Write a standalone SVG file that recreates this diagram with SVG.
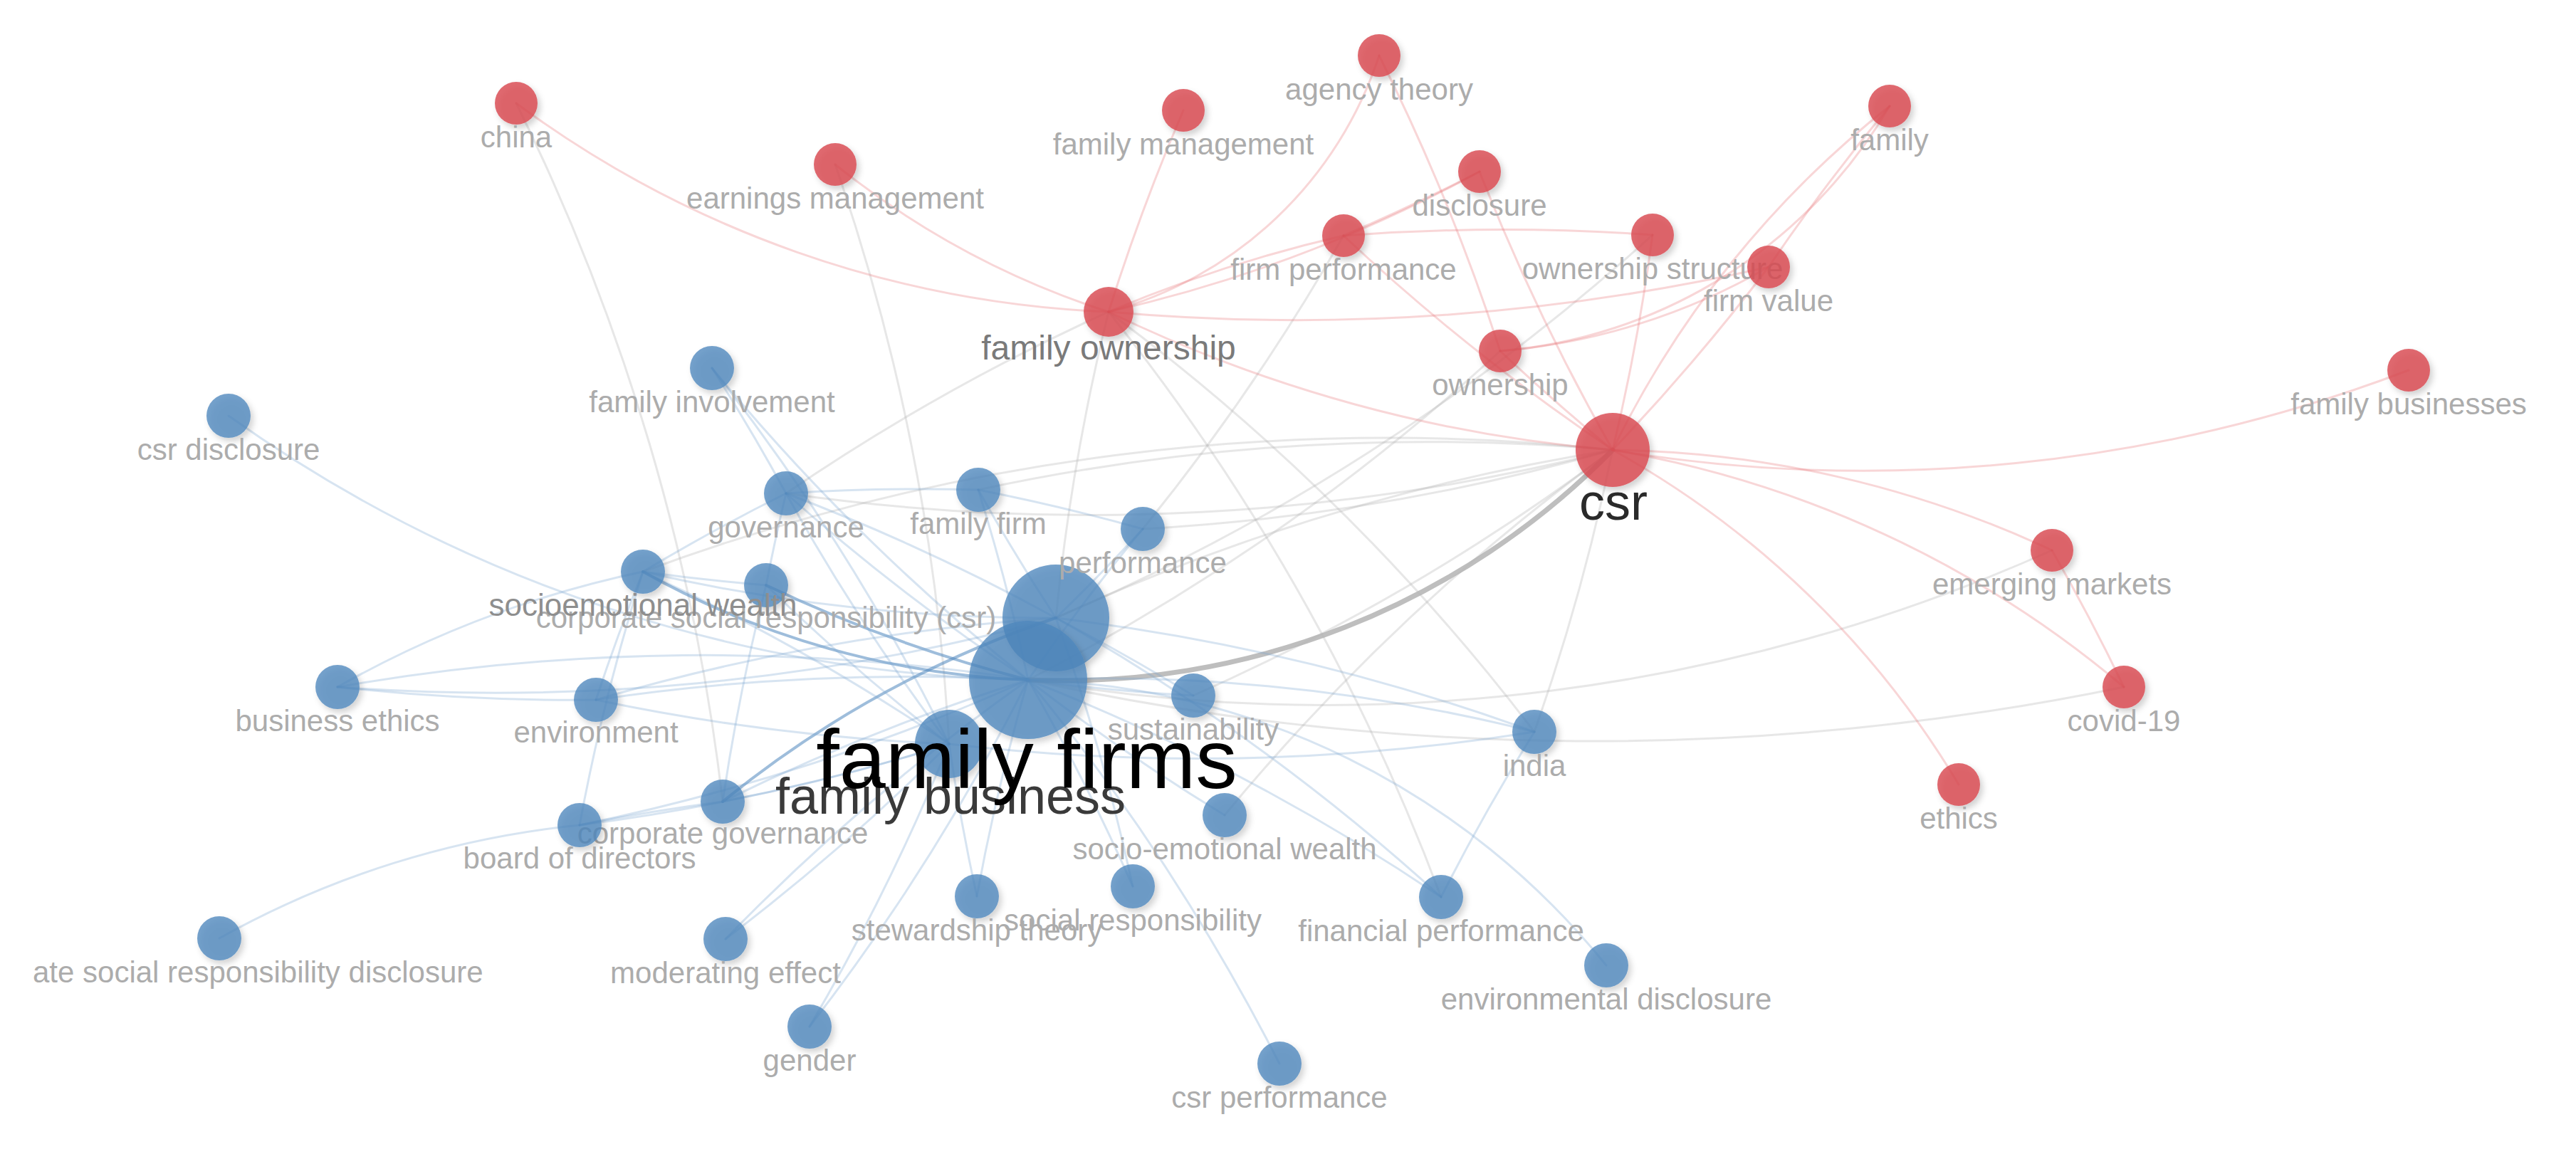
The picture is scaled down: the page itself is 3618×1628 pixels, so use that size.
<svg xmlns="http://www.w3.org/2000/svg" width="3618" height="1628" viewBox="0 0 3618 1628">
<defs>
<filter id="sh" x="-30%" y="-30%" width="170%" height="170%">
<feDropShadow dx="4" dy="5" stdDeviation="4" flood-color="#000" flood-opacity="0.22"/>
</filter>
</defs>
<style>
.e path{fill:none;stroke-linecap:round}
.g{stroke:#b0b0b0;stroke-opacity:.3;stroke-width:3}
.gt{stroke:#b3b3b3;stroke-opacity:.85;stroke-width:7}
.b{stroke:#7aa7d2;stroke-opacity:.3;stroke-width:3}
.bs{stroke:#4f86bd;stroke-opacity:.55;stroke-width:4}
.r{stroke:#e8767c;stroke-opacity:.3;stroke-width:3}
.nb circle{fill:#4d86bd;fill-opacity:.78;filter:url(#sh)}
.nr circle{fill:#d94850;fill-opacity:.82;filter:url(#sh)}
text{font-family:"Liberation Sans",Arial,sans-serif;font-size:42px;fill:#acacac;text-anchor:middle}
</style>
<rect width="3618" height="1628" fill="#fff"/>
<g id="connectors" class="e">
<path class="g" d="M1557 438A3000 3000 0 0 0 1483 868"/>
<path class="g" d="M1557 438A3000 3000 0 0 0 1104 693"/>
<path class="g" d="M1557 438A3000 3000 0 0 1 2155 1028"/>
<path class="g" d="M1557 438A3000 3000 0 0 1 2024 1260"/>
<path class="g" d="M2265 632A3000 3000 0 0 0 1374 688"/>
<path class="g" d="M2265 632A3000 3000 0 0 1 1104 693"/>
<path class="g" d="M2265 632A3000 3000 0 0 0 903 803"/>
<path class="g" d="M2265 632A3000 3000 0 0 1 1605 743"/>
<path class="g" d="M2265 632A3000 3000 0 0 0 1483 868"/>
<path class="g" d="M2265 632A3000 3000 0 0 1 2155 1028"/>
<path class="g" d="M2265 632A3000 3000 0 0 1 1676 977"/>
<path class="g" d="M2265 632A3000 3000 0 0 0 1720 1145"/>
<path class="g" d="M2882 773A2500 2500 0 0 1 1444 955"/>
<path class="g" d="M2983 965A3700 3700 0 0 1 1444 955"/>
<path class="g" d="M725 145A3000 3000 0 0 1 1015 1126"/>
<path class="g" d="M1173 231A3000 3000 0 0 1 1333 1045"/>
<path class="g" d="M2107 493A3000 3000 0 0 1 1444 955"/>
<path class="g" d="M2321 330A3000 3000 0 0 1 1483 868"/>
<path class="g" d="M1887 331A3000 3000 0 0 1 1605 743"/>
<path class="gt" d="M1444 955A1081 1081 0 0 0 2265 632"/>
<path class="b" d="M1444 955A3000 3000 0 0 1 1000 517"/>
<path class="b" d="M1444 955A3000 3000 0 0 1 1104 693"/>
<path class="b" d="M1444 955A3000 3000 0 0 0 1374 688"/>
<path class="b" d="M1444 955A3000 3000 0 0 1 1605 743"/>
<path class="bs" d="M903 803A1200 1200 0 0 0 1444 955"/>
<path class="bs" d="M1076 822A2000 2000 0 0 0 1444 955"/>
<path class="b" d="M474 965A3000 3000 0 0 1 1444 955"/>
<path class="b" d="M837 983A3000 3000 0 0 1 1444 955"/>
<path class="b" d="M1444 955A3000 3000 0 0 0 1676 977"/>
<path class="b" d="M1444 955A2500 2500 0 0 1 2155 1028"/>
<path class="b" d="M1444 955A3000 3000 0 0 0 1720 1145"/>
<path class="b" d="M1444 955A3000 3000 0 0 0 1015 1126"/>
<path class="b" d="M1444 955A3000 3000 0 0 1 814 1159"/>
<path class="b" d="M1444 955A3000 3000 0 0 0 1372 1259"/>
<path class="b" d="M1444 955A3000 3000 0 0 1 1591 1245"/>
<path class="b" d="M1444 955A3000 3000 0 0 1 2024 1260"/>
<path class="b" d="M1444 955A1076 1076 0 0 1 2256 1356"/>
<path class="b" d="M1444 955A3000 3000 0 0 1 1797 1494"/>
<path class="b" d="M1444 955A3000 3000 0 0 0 1019 1319"/>
<path class="b" d="M1444 955A3000 3000 0 0 1 1137 1442"/>
<path class="b" d="M321 584A2000 2000 0 0 0 1444 955"/>
<path class="b" d="M1483 868A3000 3000 0 0 0 1104 693"/>
<path class="b" d="M1483 868A2500 2500 0 0 1 903 803"/>
<path class="b" d="M1483 868A3000 3000 0 0 0 837 983"/>
<path class="bs" d="M1015 1126A1500 1500 0 0 1 1483 868"/>
<path class="b" d="M1483 868A3000 3000 0 0 1 1374 688"/>
<path class="b" d="M1483 868A3000 3000 0 0 1 1676 977"/>
<path class="b" d="M1483 868A3000 3000 0 0 1 2155 1028"/>
<path class="b" d="M1483 868A3000 3000 0 0 1 1591 1245"/>
<path class="b" d="M1483 868A3000 3000 0 0 0 1605 743"/>
<path class="b" d="M1483 868A3000 3000 0 0 1 2024 1260"/>
<path class="b" d="M1483 868A3000 3000 0 0 1 474 965"/>
<path class="b" d="M1333 1045A3000 3000 0 0 1 1104 693"/>
<path class="b" d="M1333 1045A3000 3000 0 0 0 1000 517"/>
<path class="b" d="M1333 1045A3000 3000 0 0 1 837 983"/>
<path class="b" d="M1333 1045A3000 3000 0 0 1 1015 1126"/>
<path class="b" d="M1333 1045A3000 3000 0 0 1 1019 1319"/>
<path class="b" d="M1333 1045A3000 3000 0 0 1 1137 1442"/>
<path class="b" d="M1333 1045A3000 3000 0 0 0 1372 1259"/>
<path class="b" d="M1333 1045A3000 3000 0 0 1 1076 822"/>
<path class="b" d="M1333 1045A3000 3000 0 0 0 903 803"/>
<path class="b" d="M1333 1045A3000 3000 0 0 1 814 1159"/>
<path class="b" d="M1333 1045A3000 3000 0 0 0 2155 1028"/>
<path class="b" d="M903 803A3000 3000 0 0 0 1076 822"/>
<path class="b" d="M903 803A3000 3000 0 0 1 1104 693"/>
<path class="b" d="M1104 693A3000 3000 0 0 1 1374 688"/>
<path class="b" d="M474 965A3000 3000 0 0 0 837 983"/>
<path class="b" d="M474 965A1500 1500 0 0 1 903 803"/>
<path class="b" d="M814 1159A3000 3000 0 0 1 1015 1126"/>
<path class="b" d="M308 1318A1300 1300 0 0 1 814 1159"/>
<path class="b" d="M2155 1028A3000 3000 0 0 0 2024 1260"/>
<path class="b" d="M1000 517A3000 3000 0 0 1 1104 693"/>
<path class="b" d="M837 983A3000 3000 0 0 1 903 803"/>
<path class="b" d="M1015 1126A3000 3000 0 0 1 1076 822"/>
<path class="b" d="M1374 688A3000 3000 0 0 1 1605 743"/>
<path class="b" d="M1104 693A3000 3000 0 0 0 1076 822"/>
<path class="b" d="M814 1159A3000 3000 0 0 1 903 803"/>
<path class="r" d="M725 145A1500 1500 0 0 0 1557 438"/>
<path class="r" d="M1173 231A1200 1200 0 0 0 1557 438"/>
<path class="r" d="M1662 155A3000 3000 0 0 0 1557 438"/>
<path class="r" d="M1557 438A550 550 0 0 0 1937 78"/>
<path class="r" d="M1557 438A2000 2000 0 0 1 1887 331"/>
<path class="r" d="M1557 438A2000 2000 0 0 0 2078 241"/>
<path class="r" d="M1557 438A3000 3000 0 0 0 2484 375"/>
<path class="r" d="M1887 331A3000 3000 0 0 1 2321 330"/>
<path class="r" d="M2107 493A900 900 0 0 0 2484 375"/>
<path class="r" d="M2654 149A700 700 0 0 1 2107 493"/>
<path class="r" d="M2654 149A1390 1390 0 0 0 2265 632"/>
<path class="r" d="M2484 375A3000 3000 0 0 1 2265 632"/>
<path class="r" d="M2321 330A3000 3000 0 0 1 2265 632"/>
<path class="r" d="M2107 493A3000 3000 0 0 0 2265 632"/>
<path class="r" d="M2078 241A3000 3000 0 0 0 2265 632"/>
<path class="r" d="M1937 78A3000 3000 0 0 1 2107 493"/>
<path class="r" d="M2078 241A3000 3000 0 0 1 1887 331"/>
<path class="r" d="M2654 149A3000 3000 0 0 0 2484 375"/>
<path class="r" d="M1887 331A3000 3000 0 0 0 2265 632"/>
<path class="r" d="M1557 438A2000 2000 0 0 0 2265 632"/>
<path class="r" d="M2265 632A1500 1500 0 0 1 2882 773"/>
<path class="r" d="M2265 632A1500 1500 0 0 1 2983 965"/>
<path class="r" d="M2265 632A1300 1300 0 0 1 2751 1102"/>
<path class="r" d="M2265 632A2143 2143 0 0 0 3383 520"/>
<path class="r" d="M2882 773A3000 3000 0 0 1 2983 965"/>
</g>
<g id="node-b2" class="nb"><circle cx="1483" cy="868" r="75"/></g>
<g id="node-china" class="nr"><circle cx="725" cy="145" r="30"/><text x="725" y="207">china</text></g>
<g id="node-earnings-management" class="nr"><circle cx="1173" cy="231" r="30"/><text x="1173" y="293">earnings management</text></g>
<g id="node-family-management" class="nr"><circle cx="1662" cy="155" r="30"/><text x="1662" y="217">family management</text></g>
<g id="node-agency-theory" class="nr"><circle cx="1937" cy="78" r="30"/><text x="1937" y="140">agency theory</text></g>
<g id="node-disclosure" class="nr"><circle cx="2078" cy="241" r="30"/><text x="2078" y="303">disclosure</text></g>
<g id="node-firm-performance" class="nr"><circle cx="1887" cy="331" r="30"/><text x="1887" y="393">firm performance</text></g>
<g id="node-ownership-structure" class="nr"><circle cx="2321" cy="330" r="30"/><text x="2321" y="392">ownership structure</text></g>
<g id="node-firm-value" class="nr"><circle cx="2484" cy="375" r="30"/><text x="2484" y="437">firm value</text></g>
<g id="node-family" class="nr"><circle cx="2654" cy="149" r="30"/><text x="2654" y="211">family</text></g>
<g id="node-ownership" class="nr"><circle cx="2107" cy="493" r="30"/><text x="2107" y="555">ownership</text></g>
<g id="node-family-businesses" class="nr"><circle cx="3383" cy="520" r="30"/><text x="3383" y="582">family businesses</text></g>
<g id="node-emerging-markets" class="nr"><circle cx="2882" cy="773" r="30"/><text x="2882" y="835">emerging markets</text></g>
<g id="node-covid-19" class="nr"><circle cx="2983" cy="965" r="30"/><text x="2983" y="1027">covid-19</text></g>
<g id="node-ethics" class="nr"><circle cx="2751" cy="1102" r="30"/><text x="2751" y="1164">ethics</text></g>
<g id="node-csr-disclosure" class="nb"><circle cx="321" cy="584" r="31"/><text x="321" y="646">csr disclosure</text></g>
<g id="node-family-involvement" class="nb"><circle cx="1000" cy="517" r="31"/><text x="1000" y="579">family involvement</text></g>
<g id="node-governance" class="nb"><circle cx="1104" cy="693" r="31"/><text x="1104" y="755">governance</text></g>
<g id="node-family-firm" class="nb"><circle cx="1374" cy="688" r="31"/><text x="1374" y="750">family firm</text></g>
<g id="node-performance" class="nb"><circle cx="1605" cy="743" r="31"/><text x="1605" y="805">performance</text></g>
<g id="node-csr-long" class="nb"><circle cx="1076" cy="822" r="31"/><text x="1076" y="882">corporate social responsibility (csr)</text></g>
<g id="node-socioemotional-wealth" class="nb"><circle cx="903" cy="803" r="31"/><text x="903" y="865" style="font-size:44px;fill:#8e8e8e">socioemotional wealth</text></g>
<g id="node-business-ethics" class="nb"><circle cx="474" cy="965" r="31"/><text x="474" y="1027">business ethics</text></g>
<g id="node-environment" class="nb"><circle cx="837" cy="983" r="31"/><text x="837" y="1043">environment</text></g>
<g id="node-sustainability" class="nb"><circle cx="1676" cy="977" r="31"/><text x="1676" y="1039">sustainability</text></g>
<g id="node-india" class="nb"><circle cx="2155" cy="1028" r="31"/><text x="2155" y="1090">india</text></g>
<g id="node-socio-emotional-wealth" class="nb"><circle cx="1720" cy="1145" r="31"/><text x="1720" y="1207">socio-emotional wealth</text></g>
<g id="node-corporate-governance" class="nb"><circle cx="1015" cy="1126" r="31"/><text x="1015" y="1185">corporate governance</text></g>
<g id="node-board-of-directors" class="nb"><circle cx="814" cy="1159" r="31"/><text x="814" y="1220">board of directors</text></g>
<g id="node-stewardship-theory" class="nb"><circle cx="1372" cy="1259" r="31"/><text x="1372" y="1321">stewardship theory</text></g>
<g id="node-social-responsibility" class="nb"><circle cx="1591" cy="1245" r="31"/><text x="1591" y="1307">social responsibility</text></g>
<g id="node-financial-performance" class="nb"><circle cx="2024" cy="1260" r="31"/><text x="2024" y="1322">financial performance</text></g>
<g id="node-environmental-disclosure" class="nb"><circle cx="2256" cy="1356" r="31"/><text x="2256" y="1418">environmental disclosure</text></g>
<g id="node-csr-performance" class="nb"><circle cx="1797" cy="1494" r="31"/><text x="1797" y="1556">csr performance</text></g>
<g id="node-csr-resp-disclosure" class="nb"><circle cx="308" cy="1318" r="31"/><text x="46" y="1380" style="text-anchor:start">ate social responsibility disclosure</text></g>
<g id="node-moderating-effect" class="nb"><circle cx="1019" cy="1319" r="31"/><text x="1019" y="1381">moderating effect</text></g>
<g id="node-gender" class="nb"><circle cx="1137" cy="1442" r="31"/><text x="1137" y="1504">gender</text></g>
<g id="node-family-ownership" class="nr"><circle cx="1557" cy="438" r="35"/><text x="1557" y="505" style="font-size:48px;fill:#7a7a7a">family ownership</text></g>
<g id="node-family-business" class="nb"><circle cx="1333" cy="1045" r="48"/><text x="1335" y="1143" style="font-size:72px;fill:#3a3a3a">family business</text></g>
<g id="node-csr" class="nr"><circle cx="2265" cy="632" r="52"/><text x="2266" y="730" style="font-size:72px;fill:#2a2a2a">csr</text></g>
<g id="node-family-firms" class="nb"><circle cx="1444" cy="955" r="83"/><text x="1442" y="1107" style="font-size:117px;fill:#000">family firms</text></g>
</svg>
